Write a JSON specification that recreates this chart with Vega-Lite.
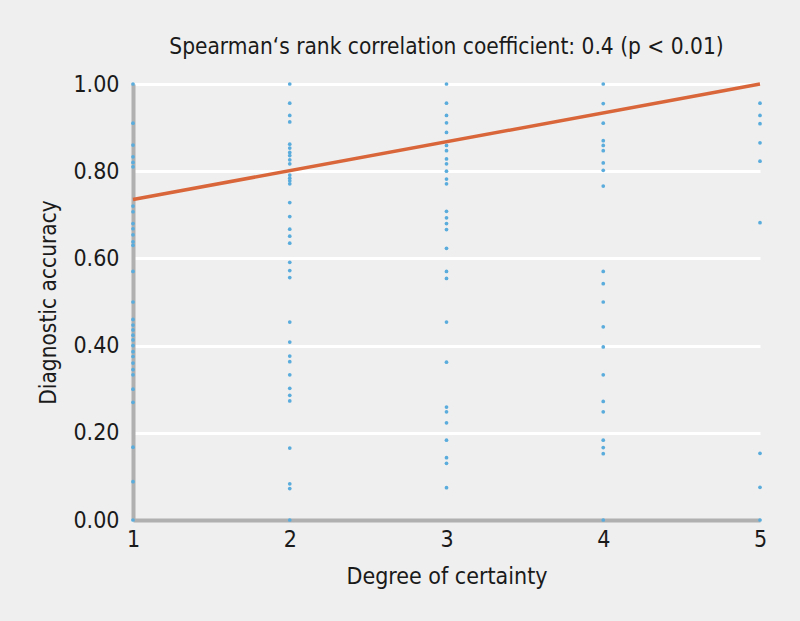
{
  "$schema": "https://vega.github.io/schema/vega-lite/v6.json",
  "autosize": {"type": "none"},
  "width": 627,
  "height": 436,
  "padding": {"left": 133, "top": 84, "right": 40, "bottom": 101},
  "background": "#efefef",
  "title": {
    "text": "Spearman‘s rank correlation coefficient: 0.4 (p < 0.01)",
    "font": "DejaVu Sans Condensed, Roboto",
    "fontSize": 22.5,
    "fontWeight": "normal",
    "color": "#1a1a1a",
    "anchor": "middle",
    "offset": 15
  },
  "config": {
    "view": {"stroke": null},
    "font": "DejaVu Sans Condensed, Roboto"
  },
  "datasets": {
    "points": [
      {"certainty": 1, "accuracy": 1.0}, {"certainty": 1, "accuracy": 0.91}, {"certainty": 1, "accuracy": 0.86},
      {"certainty": 1, "accuracy": 0.833}, {"certainty": 1, "accuracy": 0.82}, {"certainty": 1, "accuracy": 0.81},
      {"certainty": 1, "accuracy": 0.72}, {"certainty": 1, "accuracy": 0.707}, {"certainty": 1, "accuracy": 0.68},
      {"certainty": 1, "accuracy": 0.668}, {"certainty": 1, "accuracy": 0.654}, {"certainty": 1, "accuracy": 0.638},
      {"certainty": 1, "accuracy": 0.63}, {"certainty": 1, "accuracy": 0.57}, {"certainty": 1, "accuracy": 0.5},
      {"certainty": 1, "accuracy": 0.46}, {"certainty": 1, "accuracy": 0.447}, {"certainty": 1, "accuracy": 0.436},
      {"certainty": 1, "accuracy": 0.424}, {"certainty": 1, "accuracy": 0.413}, {"certainty": 1, "accuracy": 0.4},
      {"certainty": 1, "accuracy": 0.386}, {"certainty": 1, "accuracy": 0.375}, {"certainty": 1, "accuracy": 0.36},
      {"certainty": 1, "accuracy": 0.345}, {"certainty": 1, "accuracy": 0.333}, {"certainty": 1, "accuracy": 0.3},
      {"certainty": 1, "accuracy": 0.27}, {"certainty": 1, "accuracy": 0.167}, {"certainty": 1, "accuracy": 0.088},
      {"certainty": 1, "accuracy": 0.0},
      {"certainty": 2, "accuracy": 1.0}, {"certainty": 2, "accuracy": 0.956}, {"certainty": 2, "accuracy": 0.928},
      {"certainty": 2, "accuracy": 0.913}, {"certainty": 2, "accuracy": 0.862}, {"certainty": 2, "accuracy": 0.853},
      {"certainty": 2, "accuracy": 0.843}, {"certainty": 2, "accuracy": 0.836}, {"certainty": 2, "accuracy": 0.826},
      {"certainty": 2, "accuracy": 0.817}, {"certainty": 2, "accuracy": 0.791}, {"certainty": 2, "accuracy": 0.784},
      {"certainty": 2, "accuracy": 0.778}, {"certainty": 2, "accuracy": 0.771}, {"certainty": 2, "accuracy": 0.728},
      {"certainty": 2, "accuracy": 0.696}, {"certainty": 2, "accuracy": 0.667}, {"certainty": 2, "accuracy": 0.651},
      {"certainty": 2, "accuracy": 0.635}, {"certainty": 2, "accuracy": 0.591}, {"certainty": 2, "accuracy": 0.572},
      {"certainty": 2, "accuracy": 0.556}, {"certainty": 2, "accuracy": 0.454}, {"certainty": 2, "accuracy": 0.408},
      {"certainty": 2, "accuracy": 0.376}, {"certainty": 2, "accuracy": 0.363}, {"certainty": 2, "accuracy": 0.333},
      {"certainty": 2, "accuracy": 0.302}, {"certainty": 2, "accuracy": 0.286}, {"certainty": 2, "accuracy": 0.273},
      {"certainty": 2, "accuracy": 0.165}, {"certainty": 2, "accuracy": 0.083}, {"certainty": 2, "accuracy": 0.072},
      {"certainty": 2, "accuracy": 0.0},
      {"certainty": 3, "accuracy": 1.0}, {"certainty": 3, "accuracy": 0.956}, {"certainty": 3, "accuracy": 0.928},
      {"certainty": 3, "accuracy": 0.911}, {"certainty": 3, "accuracy": 0.889}, {"certainty": 3, "accuracy": 0.859},
      {"certainty": 3, "accuracy": 0.847}, {"certainty": 3, "accuracy": 0.828}, {"certainty": 3, "accuracy": 0.817},
      {"certainty": 3, "accuracy": 0.8}, {"certainty": 3, "accuracy": 0.782}, {"certainty": 3, "accuracy": 0.771},
      {"certainty": 3, "accuracy": 0.708}, {"certainty": 3, "accuracy": 0.693}, {"certainty": 3, "accuracy": 0.68},
      {"certainty": 3, "accuracy": 0.666}, {"certainty": 3, "accuracy": 0.623}, {"certainty": 3, "accuracy": 0.57},
      {"certainty": 3, "accuracy": 0.554}, {"certainty": 3, "accuracy": 0.454}, {"certainty": 3, "accuracy": 0.362},
      {"certainty": 3, "accuracy": 0.259}, {"certainty": 3, "accuracy": 0.248}, {"certainty": 3, "accuracy": 0.223},
      {"certainty": 3, "accuracy": 0.183}, {"certainty": 3, "accuracy": 0.143}, {"certainty": 3, "accuracy": 0.13},
      {"certainty": 3, "accuracy": 0.074},
      {"certainty": 4, "accuracy": 1.0}, {"certainty": 4, "accuracy": 0.955}, {"certainty": 4, "accuracy": 0.91},
      {"certainty": 4, "accuracy": 0.87}, {"certainty": 4, "accuracy": 0.859}, {"certainty": 4, "accuracy": 0.847},
      {"certainty": 4, "accuracy": 0.819}, {"certainty": 4, "accuracy": 0.802}, {"certainty": 4, "accuracy": 0.766},
      {"certainty": 4, "accuracy": 0.57}, {"certainty": 4, "accuracy": 0.542}, {"certainty": 4, "accuracy": 0.5},
      {"certainty": 4, "accuracy": 0.443}, {"certainty": 4, "accuracy": 0.397}, {"certainty": 4, "accuracy": 0.333},
      {"certainty": 4, "accuracy": 0.272}, {"certainty": 4, "accuracy": 0.248}, {"certainty": 4, "accuracy": 0.183},
      {"certainty": 4, "accuracy": 0.166}, {"certainty": 4, "accuracy": 0.152}, {"certainty": 4, "accuracy": 0.0},
      {"certainty": 5, "accuracy": 0.956}, {"certainty": 5, "accuracy": 0.928}, {"certainty": 5, "accuracy": 0.909},
      {"certainty": 5, "accuracy": 0.865}, {"certainty": 5, "accuracy": 0.823}, {"certainty": 5, "accuracy": 0.682},
      {"certainty": 5, "accuracy": 0.153}, {"certainty": 5, "accuracy": 0.075}, {"certainty": 5, "accuracy": 0.0}
    ],
    "fit": [
      {"certainty": 1, "accuracy": 0.735},
      {"certainty": 5, "accuracy": 1.0}
    ]
  },
  "layer": [
    {
      "data": {"name": "points"},
      "mark": {"type": "circle", "size": 14, "color": "#5aacdc", "opacity": 1},
      "encoding": {
        "x": {
          "field": "certainty", "type": "quantitative",
          "scale": {"domain": [1, 5], "nice": false, "zero": false},
          "axis": {
            "title": "Degree of certainty",
            "values": [1, 2, 3, 4, 5],
            "format": "d",
            "grid": false,
            "ticks": false,
            "domainColor": "#b0b0b0",
            "domainWidth": 4,
            "labelFontSize": 23,
            "labelColor": "#1a1a1a",
            "labelPadding": 8,
            "labelFlush": false,
            "titleFontSize": 23,
            "titleFontWeight": "normal",
            "titleColor": "#1a1a1a",
            "titlePadding": 14
          }
        },
        "y": {
          "field": "accuracy", "type": "quantitative",
          "scale": {"domain": [0, 1], "nice": false},
          "axis": {
            "title": "Diagnostic accuracy",
            "values": [0, 0.2, 0.4, 0.6, 0.8, 1.0],
            "format": ".2f",
            "grid": true,
            "gridColor": "#ffffff",
            "gridWidth": 3,
            "gridOpacity": 1,
            "ticks": false,
            "domainColor": "#b0b0b0",
            "domainWidth": 4,
            "labelFontSize": 23,
            "labelColor": "#1a1a1a",
            "labelPadding": 14,
            "labelFlush": false,
            "titleFontSize": 22.5,
            "titleFontWeight": "normal",
            "titleColor": "#1a1a1a",
            "titleX": -85,
            "titleY": 218,
            "titleAngle": -90,
            "titleAlign": "center",
            "titleBaseline": "middle"
          }
        }
      }
    },
    {
      "data": {"name": "fit"},
      "mark": {"type": "line", "color": "#d9663a", "strokeWidth": 3.5, "clip": false},
      "encoding": {
        "x": {"field": "certainty", "type": "quantitative"},
        "y": {"field": "accuracy", "type": "quantitative"}
      }
    }
  ]
}
